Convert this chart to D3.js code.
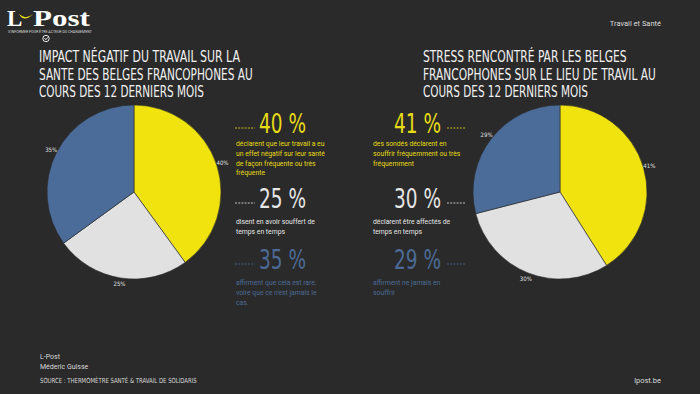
<!DOCTYPE html>
<html><head><meta charset="utf-8">
<script src="https://cdn.jsdelivr.net/npm/d3@7"></script>
<style>
html,body{margin:0;padding:0;background:#2a2a2a;}
svg{display:block;}
</style></head>
<body>
<script>
// ---- data ----
const categories = ["fréquent", "de temps en temps", "rare / jamais"];
const impactValues = [40, 25, 35];
const stressValues = [41, 30, 29];
const sliceColors = ["#f0e30e", "#e1e1e1", "#4b6b98"];
const textColors = ["#e8dc14", "#e6e6e6", "#4c6a96"];
const impactTitle = ["IMPACT NÉGATIF DU TRAVAIL SUR LA", "SANTE DES BELGES FRANCOPHONES AU", "COURS DES 12 DERNIERS MOIS"];
const stressTitle = ["STRESS RENCONTRÉ PAR LES BELGES", "FRANCOPHONES SUR LE LIEU DE TRAVIL AU", "COURS DES 12 DERNIERS MOIS"];
const impactDesc = [
  ["déclarent que leur travail a eu", "un effet négatif sur leur santé", "de façon fréquente ou très", "fréquente"],
  ["disent en avoir souffert de", "temps en temps"],
  ["affirment que cela est rare,", "voire que ce n'est jamais le", "cas."]
];
const stressDesc = [
  ["des sondés déclarent en", "souffrir fréquemment ou très", "fréquemment"],
  ["déclarent être affectés de", "temps en temps"],
  ["affirment ne jamais en", "souffrir"]
];

const W = 700, H = 394;
const svg = d3.select("body").append("svg").attr("width", W).attr("height", H);
svg.append("rect").attr("width", W).attr("height", H).attr("fill", "#2a2a2a");

const condensed = "'DejaVu Sans Condensed','Liberation Sans Narrow',sans-serif";
const sans = "Roboto,'Noto Sans',sans-serif";

// scale a text horizontally to a target width (anchor at x)
function fit(sel, width, allowStretch) {
  const w = sel.node().getComputedTextLength();
  const x = +sel.attr("x");
  const k = allowStretch ? width / w : Math.min(1, width / w);
  sel.attr("transform", `translate(${x},0) scale(${k},1) translate(${-x},0)`);
  return sel;
}

// ---- logo ----
const logo = svg.append("g");
logo.append("text").attr("x", 7).attr("y", 26).attr("fill", "#fff")
  .style("font-family", "'Liberation Serif','DejaVu Serif',serif").style("font-weight", "bold")
  .style("font-size", "23px").text("L");
logo.append("path").attr("fill", "#f0e30e")
  .attr("d", "M19,14 Q24,23 33,14 Q27,19 22,16 Z");
fit(logo.append("text").attr("x", 33).attr("y", 26).attr("fill", "#fff")
  .style("font-family", "'Liberation Serif','DejaVu Serif',serif").style("font-weight", "bold")
  .style("font-size", "23px").text("Post"), 57, true);
fit(logo.append("text").attr("x", 8).attr("y", 33.5).attr("fill", "#ddd")
  .style("font-family", sans).style("font-size", "2.6px")
  .text("S'INFORMER POUR ÊTRE ACTEUR DU CHANGEMENT"), 84, true);
logo.append("circle").attr("cx", 46).attr("cy", 38.5).attr("r", 3.2).attr("fill", "none").attr("stroke", "#fff").attr("stroke-width", 0.9);
logo.append("path").attr("d", "M44.3,38.1 L45.8,39.7 L47.8,37.3").attr("fill", "none").attr("stroke", "#fff").attr("stroke-width", 0.9);

svg.append("text").attr("x", 661).attr("y", 26).attr("text-anchor", "end").attr("fill", "#ddd")
  .style("font-family", sans).style("font-size", "7.5px").text("Travail et Santé");

// ---- titles ----
function title(lines, x, widths) {
  lines.forEach((t, i) => {
    fit(svg.append("text").attr("x", x).attr("y", 62 + i * 17.6).attr("fill", "#f2f2f2")
      .style("font-family", condensed).style("font-size", "16.5px").style("font-weight", "500").text(t), widths[i]);
  });
}
title(impactTitle, 39, [201, 214, 165]);
title(stressTitle, 423, [204, 233, 165]);

// ---- pies ----
function pie(values, cx, cy) {
  const r = 87;
  const g = svg.append("g").attr("transform", `translate(${cx},${cy})`);
  const arcs = d3.pie().sort(null).value(d => d)(values);
  const arc = d3.arc().innerRadius(0).outerRadius(r);
  const labelArc = d3.arc().innerRadius(r + 6).outerRadius(r + 6);
  g.selectAll("path").data(arcs).join("path")
    .attr("d", arc).attr("fill", (d, i) => sliceColors[i])
    .attr("stroke", "#2a2a2a").attr("stroke-width", 0.6);
  g.selectAll("text").data(arcs).join("text")
    .attr("transform", d => `translate(${labelArc.centroid(d)})`)
    .attr("text-anchor", "middle").attr("dy", "0.35em")
    .attr("fill", "#e0e0e0").style("font-family", condensed).style("font-size", "6px")
    .text(d => d.data + "%");
}
pie(impactValues, 134, 192);
pie(stressValues, 560, 192);

// ---- big numbers & descriptions ----
const bigY = [133, 208, 269];
const descY = [146, 224, 285];
function block(values, descs, numX, dashX1, dashX2, descX) {
  values.forEach((v, i) => {
    fit(svg.append("text").attr("x", numX).attr("y", bigY[i])
      .attr("fill", textColors[i]).style("font-family", condensed).style("font-size", "26px")
      .text(v + " %"), 47);
    svg.append("line").attr("x1", dashX1).attr("x2", dashX2)
      .attr("y1", bigY[i] - 5).attr("y2", bigY[i] - 5)
      .attr("stroke", textColors[i]).attr("stroke-width", 0.8).attr("stroke-dasharray", "2,1.2");
    descs[i].forEach((t, j) => {
      svg.append("text").attr("x", descX).attr("y", descY[i] + j * 9.8)
        .attr("fill", textColors[i]).style("font-family", sans).style("font-size", "6.8px").text(t);
    });
  });
}
block(impactValues, impactDesc, 259, 235, 255, 236);
block(stressValues, stressDesc, 394, 447, 466, 373);

// ---- footer ----
const foot = [["L-Post", 359], ["Méderic Guisse", 369]];
foot.forEach(([t, y]) => svg.append("text").attr("x", 40).attr("y", y).attr("fill", "#d8d8d8")
  .style("font-family", sans).style("font-size", "7px").text(t));
fit(svg.append("text").attr("x", 40).attr("y", 383).attr("fill", "#d8d8d8")
  .style("font-family", condensed).style("font-size", "7px")
  .text("SOURCE : THERMOMÈTRE SANTÉ & TRAVAIL DE SOLIDARIS"), 157);
svg.append("text").attr("x", 661).attr("y", 383).attr("text-anchor", "end").attr("fill", "#d8d8d8")
  .style("font-family", sans).style("font-size", "7.5px").text("lpost.be");
</script>
</body></html>
